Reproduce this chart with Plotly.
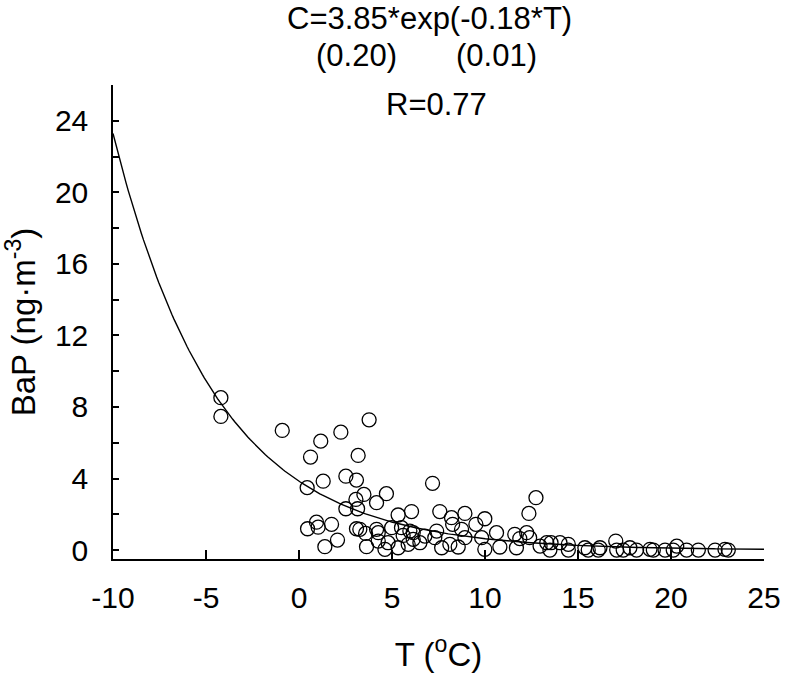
import numpy as np
import plotly.graph_objects as go

# Observed data: temperature T (°C) and BaP concentration (ng·m-3)
temp_c = [
    -4.2, -4.2, -0.9, 1.17, 2.25, 3.77, 0.62, 3.18, 1.3, 2.52, 3.09, 0.44, 7.18,
    3.49, 4.7, 4.17, 3.06, 2.52, 3.15, 5.33, 0.94, 0.46, 1.03, 1.75, 3.09, 3.27,
    3.58, 4.17, 4.26, 4.98, 5.51, 5.96, 5.6, 2.07, 1.39, 3.63, 4.26, 4.62, 4.79,
    5.33, 5.87, 6.14,
    12.74, 12.36, 6.05, 7.57, 8.2, 8.92, 9.99, 9.51, 8.26, 8.74, 7.4, 10.62, 11.6,
    12.24, 6.14, 6.77, 7.3, 8.92, 9.82, 11.87, 12.4, 6.5, 8.11, 10.8, 7.67, 8.56,
    9.99, 11.69, 12.96, 13.32,
    13.55, 14.03, 14.48, 13.49, 14.48, 15.37, 15.55, 16.09, 16.18, 17.03, 17.08,
    17.43, 17.79, 18.15, 18.87, 19.05, 19.68, 20.12, 20.31, 20.84, 21.47, 22.37,
    23.08, 22.9,
]
bap = [
    8.52, 7.47, 6.69, 6.09, 6.59, 7.28, 5.2, 5.29, 3.85, 4.13, 3.91, 3.49, 3.73,
    3.11, 3.15, 2.65, 2.83, 2.31, 2.31, 1.96, 1.56, 1.19, 1.28, 1.44, 1.19, 1.16,
    0.93, 1.16, 0.97, 1.25, 1.25, 1.06, 0.82, 0.56, 0.19, 0.19, 0.5, 0.04, 0.41,
    0.13, 0.32, 0.6,
    2.93, 2.05, 2.15, 2.15, 1.81, 2.05, 1.75, 1.44, 1.44, 1.16, 1.06, 0.97, 0.88,
    0.97, 0.97, 0.78, 0.69, 0.69, 0.69, 0.64, 0.69, 0.41, 0.32, 0.17, 0.13, 0.17,
    0.04, 0.13, 0.22, 0.41,
    0.41, 0.41, 0.32, 0.0, 0.0, 0.13, 0.0, 0.0, 0.13, 0.5, 0.0,
    0.0, 0.13, 0.0, 0.04, 0.0, 0.0, 0.0, 0.22, 0.0, 0.0, 0.0,
    0.0, 0.04,
]

# Fitted model C = a*exp(b*T)
fit_a = 3.85
fit_b = -0.18
fit_t = np.linspace(-10, 25, 300)
fit_c = fit_a * np.exp(fit_b * fit_t)

x_ticks = [-10, -5, 0, 5, 10, 15, 20, 25]
y_ticks = [0, 4, 8, 12, 16, 20, 24]

FONT = "Liberation Sans, Arial, sans-serif"

fig = go.Figure()
fig.add_trace(go.Scatter(
    x=temp_c, y=bap, mode="markers",
    marker=dict(symbol="circle-open", size=14, color="black", line=dict(width=1.3)),
    showlegend=False,
))
fig.add_trace(go.Scatter(
    x=fit_t, y=fit_c, mode="lines",
    line=dict(color="black", width=1.4),
    showlegend=False,
))

fig.update_layout(
    width=786, height=675,
    margin=dict(l=113, r=22, t=85, b=116),
    paper_bgcolor="white", plot_bgcolor="white",
    font=dict(family=FONT, size=30, color="black"),
    xaxis=dict(
        range=[-10, 25], tickvals=x_ticks, ticktext=[str(v) for v in x_ticks],
        showline=True, linecolor="black", linewidth=1.5, automargin=False,
        ticks="inside", ticklen=9, tickwidth=1.5, tickcolor="black",
        showgrid=False, zeroline=False, ticklabelstandoff=11,
        tickfont=dict(size=30),
        title=dict(text="T (<sup>o</sup>C)", font=dict(size=33), standoff=30),
    ),
    yaxis=dict(
        range=[-0.5, 26], tickvals=y_ticks, ticktext=[str(v) for v in y_ticks],
        showline=True, linecolor="black", linewidth=1.5, automargin=False,
        ticks="inside", ticklen=6, tickwidth=1.5, tickcolor="black",
        minor=dict(dtick=2, tick0=0, ticks="inside", ticklen=6, tickwidth=1.5, tickcolor="black"),
        showgrid=False, zeroline=False, ticklabelstandoff=17,
        tickfont=dict(size=30),
        title=dict(text="BaP (ng·m<sup>-3</sup>)", font=dict(size=33), standoff=12),
    ),
    annotations=[
        dict(text="C=3.85*exp(-0.18*T)", x=7.04, xref="x", y=1.141, yref="paper",
             showarrow=False, xanchor="center", yanchor="middle", font=dict(size=31)),
        dict(text="(0.20)", x=3.1, xref="x", y=1.063, yref="paper",
             showarrow=False, xanchor="center", yanchor="middle", font=dict(size=31)),
        dict(text="(0.01)", x=10.63, xref="x", y=1.063, yref="paper",
             showarrow=False, xanchor="center", yanchor="middle", font=dict(size=31)),
        dict(text="R=0.77", x=7.4, xref="x", y=0.958, yref="paper",
             showarrow=False, xanchor="center", yanchor="middle", font=dict(size=31)),
    ],
)

fig.write_html("out.html", config={"displayModeBar": False},
               post_script="document.body.style.margin='0';")
